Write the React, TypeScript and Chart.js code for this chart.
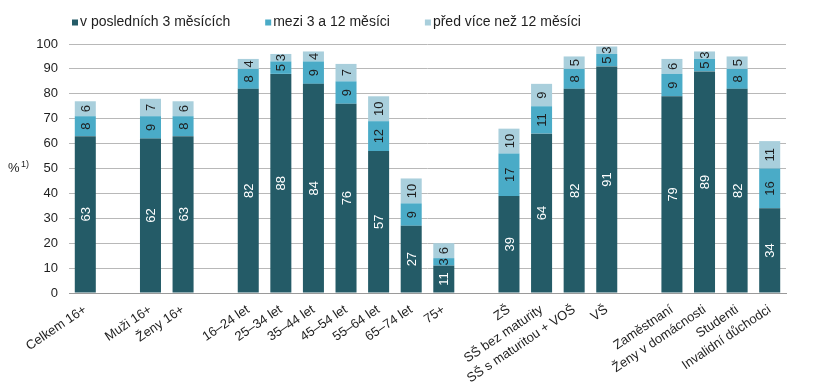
import { useEffect, useRef } from "react";
import { Chart, registerables } from "chart.js";

Chart.register(...registerables);

const categories = [
  "Celkem 16+", "", "Muži 16+", "Ženy 16+", "",
  "16–24 let", "25–34 let", "35–44 let", "45–54 let", "55–64 let", "65–74 let", "75+", "",
  "ZŠ", "SŠ bez maturity", "SŠ s maturitou + VOŠ", "VŠ", "",
  "Zaměstnaní", "Ženy v domácnosti", "Studenti", "Invalidní důchodci",
];
const last3Months = [63, null, 62, 63, null, 82, 88, 84, 76, 57, 27, 11, null, 39, 64, 82, 91, null, 79, 89, 82, 34];
const from3to12Months = [8, null, 9, 8, null, 8, 5, 9, 9, 12, 9, 3, null, 17, 11, 8, 5, null, 9, 5, 8, 16];
const over12Months = [6, null, 7, 6, null, 4, 3, 4, 7, 10, 10, 6, null, 10, 9, 5, 3, null, 6, 3, 5, 11];
const seriesNames = ["v posledních 3 měsících", "mezi 3 a 12 měsíci", "před více než 12 měsíci"];
const seriesColors = ["#245b67", "#4aabc7", "#a9cfdc"];
const labelColors = ["#ffffff", "#1e1e1e", "#1e1e1e"];
const yTickValues = [0, 10, 20, 30, 40, 50, 60, 70, 80, 90, 100];

const FONT = '"Liberation Sans", Arial, sans-serif';

const labelsPlugin = {
  id: "segLabels",
  afterDatasetsDraw(chart: any) {
    const ctx = chart.ctx;
    ctx.save();
    ctx.font = `13px ${FONT}`;
    ctx.textAlign = "center";
    ctx.textBaseline = "middle";
    chart.data.datasets.forEach((ds: any, di: number) => {
      const meta = chart.getDatasetMeta(di);
      meta.data.forEach((el: any, i: number) => {
        const v = ds.data[i];
        if (v == null) return;
        const cy = (el.y + el.base) / 2;
        ctx.save();
        ctx.translate(el.x, cy);
        ctx.rotate(-Math.PI / 2);
        ctx.fillStyle = labelColors[di];
        ctx.fillText(String(v), 0, 1);
        ctx.restore();
      });
    });
    ctx.restore();
  },
};

const decorPlugin = {
  id: "decor",
  afterDraw(chart: any) {
    const ctx = chart.ctx;
    const area = chart.chartArea;
    ctx.save();
    // y-axis title
    const midY = (area.top + area.bottom) / 2;
    ctx.fillStyle = "#1e1e1e";
    ctx.textBaseline = "middle";
    ctx.textAlign = "left";
    ctx.font = `13px ${FONT}`;
    ctx.fillText("%", 8, midY);
    const w = ctx.measureText("%").width;
    ctx.font = `9px ${FONT}`;
    ctx.fillText("1)", 8 + w + 1.5, midY - 4);
    // legend
    ctx.font = `14px ${FONT}`;
    let x = 72;
    const ly = 22.5;
    seriesNames.forEach((name, i) => {
      ctx.fillStyle = seriesColors[i];
      ctx.fillRect(x, ly - 3, 6, 6);
      ctx.fillStyle = "#1e1e1e";
      ctx.fillText(name, x + 8, ly);
      x += 8 + ctx.measureText(name).width + 35;
    });
    ctx.restore();
  },
};

export default function App() {
  const ref = useRef<HTMLCanvasElement>(null);
  useEffect(() => {
    document.body.style.margin = "0";
    const canvas = ref.current!;
    const font = { family: FONT, size: 13 };
    const chart = new Chart(canvas, {
      type: "bar",
      data: {
        labels: categories,
        datasets: [last3Months, from3to12Months, over12Months].map((d, i) => ({
          label: seriesNames[i],
          data: d,
          backgroundColor: seriesColors[i],
          borderWidth: 0,
          categoryPercentage: 1,
          barPercentage: 0.645,
        })),
      },
      options: {
        animation: false,
        responsive: false,
        maintainAspectRatio: false,
        layout: { padding: { top: 44, right: 54, left: 0, bottom: 0 } },
        plugins: { legend: { display: false }, tooltip: { enabled: false } },
        scales: {
          x: {
            stacked: true,
            grid: { display: false, drawTicks: false },
            border: { color: "#9a9a9a" },
            ticks: {
              autoSkip: false,
              maxRotation: 34,
              minRotation: 34,
              padding: 9,
              font,
              color: "#1e1e1e",
            },
            afterFit: (s: any) => {
              s.height = 95;
            },
          },
          y: {
            stacked: true,
            min: 0,
            max: 100,
            afterBuildTicks: (s: any) => {
              s.ticks = yTickValues.map((v) => ({ value: v }));
            },
            ticks: { padding: 11, font, color: "#1e1e1e" },
            grid: { color: "#b8b8b8", drawTicks: false },
            border: { display: false },
            afterFit: (s: any) => {
              s.width = 69;
            },
          },
        },
      },
      plugins: [labelsPlugin, decorPlugin],
    });
    return () => chart.destroy();
  }, []);
  return (
    <div style={{ position: "absolute", left: 0, top: 0, width: 840, height: 388, background: "#fff" }}>
      <canvas ref={ref} width={840} height={388} />
    </div>
  );
}
